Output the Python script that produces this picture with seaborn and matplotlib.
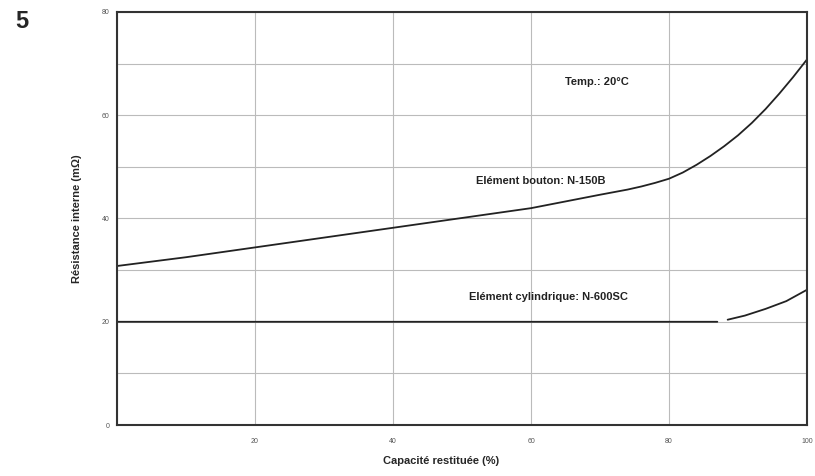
import numpy as np
import pandas as pd
import seaborn as sns
import matplotlib.pyplot as plt

# capacité restituée (%) / résistance interne (mOhm)
bouton_x = [0, 10, 20, 30, 40, 50, 60, 65, 70, 72, 74, 76, 78, 80, 82, 84, 86, 88, 90, 92, 94, 96, 98, 100]
bouton_y = [30.8, 32.5, 34.4, 36.3, 38.2, 40.1, 42.0, 43.3, 44.6, 45.1, 45.6, 46.2, 46.9, 47.7,
            48.9, 50.4, 52.1, 54.0, 56.1, 58.5, 61.2, 64.2, 67.4, 70.8]

cyl_x = [0, 87, 87.5, 88.5, 91, 94, 97, 100]
cyl_y = [20, 20, np.nan, 20.4, 21.2, 22.5, 24.0, 26.2]

x_ticks = [20, 40, 60, 80, 100]
y_ticks = [0, 20, 40, 60, 80]

sns.set_style('white')
plt.rcParams['font.family'] = ['Liberation Sans', 'DejaVu Sans']

fig = plt.figure(figsize=(8.15, 4.76), dpi=100)
ax = fig.add_axes([0.1436, 0.107, 0.8466, 0.868])

df_b = pd.DataFrame({'x': bouton_x, 'y': bouton_y})
df_c = pd.DataFrame({'x': cyl_x, 'y': cyl_y})
sns.lineplot(data=df_b, x='x', y='y', ax=ax, color='#222222', linewidth=1.3)
ax.plot(df_c['x'], df_c['y'], color='#222222', linewidth=1.3)

ax.set_xlim(0, 100)
ax.set_ylim(0, 80)
ax.set_xticks(x_ticks)
ax.set_yticks(y_ticks)
ax.set_xticks(np.arange(0, 101, 20), minor=True)
ax.set_yticks(np.arange(0, 81, 10), minor=True)
ax.grid(True, which='both', color='#bbbbbb', linewidth=0.8)
ax.tick_params(axis='both', labelsize=5, colors='#555555', length=2)
ax.tick_params(axis='x', pad=7)
for s in ax.spines.values():
    s.set_color('#333333')
    s.set_linewidth(1.5)

ax.set_xlabel('')
ax.set_ylabel('Résistance interne (mΩ)', fontsize=8, fontweight='bold', labelpad=14)
fig.text(441 / 815, 1 - 461 / 476, 'Capacité restituée (%)', fontsize=8, fontweight='bold',
         ha='center', va='center')

ax.text(69.5, 66.4, 'Temp.: 20°C', fontsize=8, fontweight='bold', ha='center', va='center', color='#222222')
ax.text(61.4, 47.3, 'Elément bouton: N-150B', fontsize=8, fontweight='bold', ha='center', va='center', color='#222222')
ax.text(62.5, 24.8, 'Elément cylindrique: N-600SC', fontsize=8, fontweight='bold', ha='center', va='center', color='#222222')

fig.text(0.027, 0.955, '5', fontsize=17, fontweight='bold', ha='center', va='center')

plt.savefig('out.png', dpi=100)
